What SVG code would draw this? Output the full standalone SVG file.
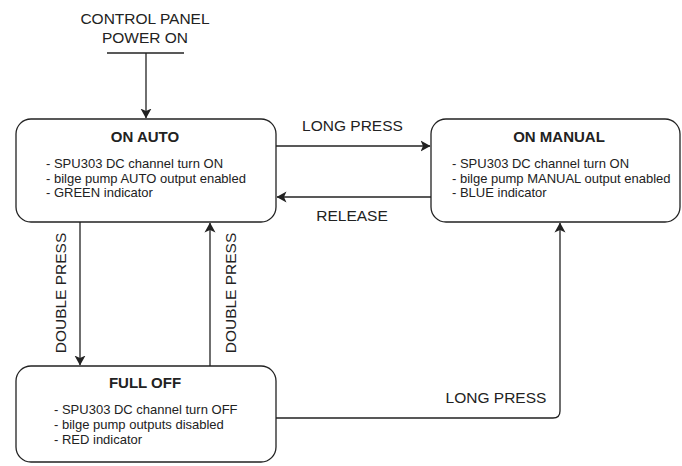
<svg xmlns="http://www.w3.org/2000/svg" width="682" height="466" viewBox="0 0 682 466">
<style>
.box{fill:#fff;stroke:#222;stroke-width:1.3}
.ln{fill:none;stroke:#222;stroke-width:1.3}
.t{font-family:"Liberation Sans",Arial,sans-serif;fill:#222}
.title{font-size:15px;font-weight:bold;text-anchor:middle}
.body{font-size:13px}
.lbl{font-size:15.5px;text-anchor:middle}
</style>
<defs>
<marker id="arr" viewBox="0 0 10 12" refX="9.5" refY="6" markerWidth="10" markerHeight="12" markerUnits="userSpaceOnUse" orient="auto">
<path d="M0,0.5 L10,6 L0,11.5 L2.5,6 Z" fill="#222"/>
</marker>
</defs>
<rect width="682" height="466" fill="#fff"/>
<g id="start">
<text class="t lbl" x="145" y="24">CONTROL PANEL</text>
<text class="t lbl" x="145" y="43">POWER ON</text>
<line class="ln" x1="107" y1="53" x2="184" y2="53"/>
</g>
<g id="connectors">
<path class="ln" d="M146,53 V118" marker-end="url(#arr)"/>
<path class="ln" d="M276,146 H430" marker-end="url(#arr)"/>
<path class="ln" d="M431,197 H277" marker-end="url(#arr)"/>
<path class="ln" d="M80,222 V365" marker-end="url(#arr)"/>
<path class="ln" d="M210,366 V223" marker-end="url(#arr)"/>
<path class="ln" d="M276,418 H553 Q560,418 560,411 V223" marker-end="url(#arr)"/>
<text class="t lbl" x="352.5" y="131">LONG PRESS</text>
<text class="t lbl" x="352" y="221">RELEASE</text>
<text class="t lbl" x="496" y="403">LONG PRESS</text>
<text class="t lbl" transform="translate(66,293) rotate(-90)">DOUBLE PRESS</text>
<text class="t lbl" transform="translate(236,293) rotate(-90)">DOUBLE PRESS</text>
</g>
<g id="on-auto">
<rect class="box" x="16" y="119" width="260" height="103" rx="15"/>
<text class="t title" x="145" y="142">ON AUTO</text>
<text class="t body" x="46" y="168">- SPU303 DC channel turn ON</text>
<text class="t body" x="46" y="182.5">- bilge pump AUTO output enabled</text>
<text class="t body" x="46" y="197">- GREEN indicator</text>
</g>
<g id="on-manual">
<rect class="box" x="431" y="119" width="249" height="103" rx="15"/>
<text class="t title" x="559" y="142">ON MANUAL</text>
<text class="t body" x="452" y="168">- SPU303 DC channel turn ON</text>
<text class="t body" x="452" y="182.5">- bilge pump MANUAL output enabled</text>
<text class="t body" x="452" y="197">- BLUE indicator</text>
</g>
<g id="full-off">
<rect class="box" x="16" y="366" width="260" height="96" rx="15"/>
<text class="t title" x="145" y="388">FULL OFF</text>
<text class="t body" x="54" y="414">- SPU303 DC channel turn OFF</text>
<text class="t body" x="54" y="429">- bilge pump outputs disabled</text>
<text class="t body" x="54" y="444">- RED indicator</text>
</g>
</svg>
